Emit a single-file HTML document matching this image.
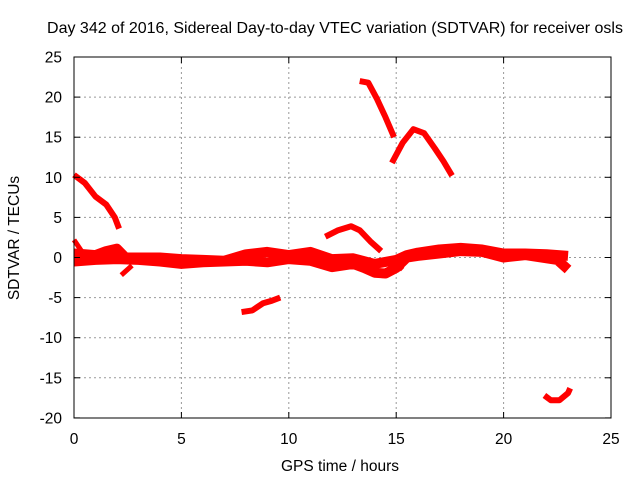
<!DOCTYPE html>
<html><head><meta charset="utf-8"><style>
body{margin:0;background:#fff;}
svg{display:block;font-family:"Liberation Sans",sans-serif;}
</style></head><body>
<svg id="chart" width="640" height="480">
<rect width="640" height="480" fill="#fff"/>
<text x="335" y="33" font-size="16" text-anchor="middle">Day 342 of 2016, Sidereal Day-to-day VTEC variation (SDTVAR) for receiver osls</text>
<g id="grid"></g>
<g id="series"></g>
<rect x="74" y="57" width="537" height="361" fill="none" stroke="#000" stroke-width="1"/>
<g id="ticks"></g>
<text x="340" y="471" font-size="15.5" text-anchor="middle">GPS time / hours</text>
<text x="0" y="0" font-size="15.5" text-anchor="middle" transform="translate(19,238) rotate(-90)">SDTVAR / TECUs</text>
</svg>
<script>
const xTicks=[0,5,10,15,20,25];
const yTicks=[25,20,15,10,5,0,-5,-10,-15,-20];
const trackA=[[0,10.3],[0.5,9.3],[1,7.6],[1.5,6.6],[1.9,5],[2.1,3.6]];
const trackB1=[[13.3,22],[13.7,21.8],[14.1,19.8],[14.5,17.5],[14.9,15]];
const trackB2=[[14.8,11.8],[15.3,14.3],[15.8,16],[16.3,15.5],[16.8,13.6],[17.2,12],[17.6,10.2]];
const trackC=[[11.7,2.6],[12.3,3.4],[12.9,3.9],[13.3,3.4],[13.8,2],[14.3,0.8]];
const trackD=[[7.8,-6.8],[8.3,-6.6],[8.8,-5.7],[9.2,-5.4],[9.6,-5]];
const trackE=[[21.9,-17.2],[22.2,-17.8],[22.6,-17.8],[23,-16.9],[23.1,-16.3]];
const bandUpper=[[0,0.5],[0.5,0.4],[1,0.3],[1.5,0.8],[2,1.1],[2.4,0],[3,0],[4,0],[5,-0.2],[6,-0.3],[7,-0.4],[8,0.4],[9,0.7],[10,0.3],[11,0.7],[12,-0.2],[13,-0.1],[14,-0.8],[15,-0.3],[15.5,0.3],[16,0.6],[17,1],[18,1.2],[19,1],[20,0.5],[21,0.5],[22,0.4],[23,0.2]];
const bandLower=[[0,-0.5],[1,-0.3],[2,-0.2],[3,-0.3],[4,-0.5],[5,-0.8],[6,-0.6],[7,-0.5],[8,-0.4],[9,-0.6],[10,-0.2],[11,-0.4],[12,-1.2],[13,-0.8],[13.5,-1.3],[14,-1.9],[14.5,-2],[15,-1.3],[15.5,0],[16,0.2],[17,0.5],[18,0.8],[19,0.7],[20,0],[21,0.3],[22,-0.1],[22.5,-0.3],[23,-1.5]];
const spurs=[[[0,2.2],[0.4,0.6]],[[2.2,-2.2],[2.7,-1]],[[14.9,-0.5],[15.3,-1.5]]];
const X=h=>74+h*21.48, Y=v=>257.5-v*8.02;
const NS='http://www.w3.org/2000/svg';
const grid=document.getElementById('grid'),ticks=document.getElementById('ticks'),ser=document.getElementById('series');
function mk(t,a,p){const e=document.createElementNS(NS,t);for(const k in a)e.setAttribute(k,a[k]);p.appendChild(e);return e;}
xTicks.forEach(t=>{const x=X(t);
 if(t>0&&t<25){const g=mk('line',{x1:x,y1:57,x2:x,y2:418,stroke:'#999','stroke-dasharray':'2,3'},grid);
 
 }
 mk('line',{x1:x,y1:418,x2:x,y2:412,stroke:'#000'},ticks);mk('line',{x1:x,y1:57,x2:x,y2:63,stroke:'#000'},ticks);
 const l=mk('text',{x:x,y:444,'font-size':15.5,'text-anchor':'middle'},ticks);l.textContent=t;
 
 });
yTicks.forEach(t=>{const y=Y(t);
 if(t<25&&t>-20){const g=mk('line',{x1:74,y1:y,x2:611,y2:y,stroke:'#999','stroke-dasharray':'2,3'},grid);
 
 }
 mk('line',{x1:74,y1:y,x2:80,y2:y,stroke:'#000'},ticks);mk('line',{x1:611,y1:y,x2:605,y2:y,stroke:'#000'},ticks);
 const l=mk('text',{x:62,y:y+5.5,'font-size':15.5,'text-anchor':'end'},ticks);l.textContent=t;
 
 });
function draw(pts,w,name){const p=mk('polyline',{points:pts.map(d=>X(d[0])+','+Y(d[1])).join(' '),fill:'none',stroke:'#f00','stroke-width':w,'stroke-linejoin':'round','stroke-linecap':'butt'},ser);
 
 }
draw(bandUpper,10,'series-band-upper');
draw(bandLower,10,'series-band-lower');
draw(trackA,6,'series-track-a');
draw(trackB1,6,'series-track-b1');
draw(trackB2,6,'series-track-b2');
draw(trackC,6,'series-track-c');
draw(trackD,6,'series-track-d');
draw(trackE,6,'series-track-e');
spurs.forEach(s=>draw(s,5,'series-spur'));
</script>
</body></html>
